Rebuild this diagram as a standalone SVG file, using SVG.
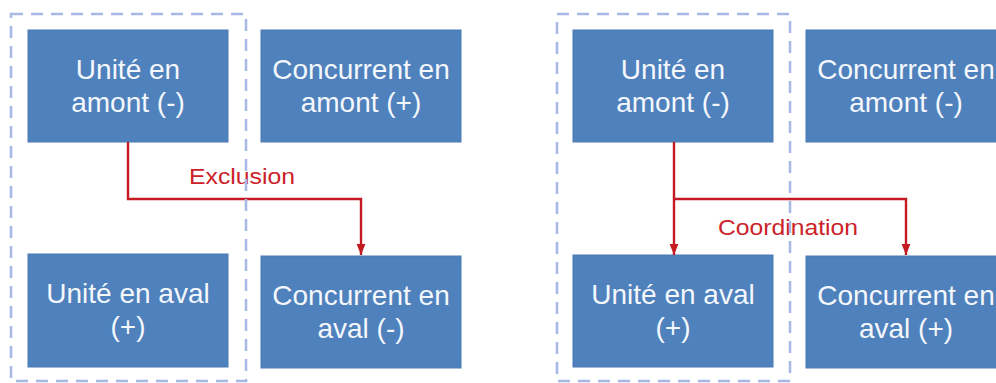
<svg xmlns="http://www.w3.org/2000/svg" width="996" height="383" viewBox="0 0 996 383">
<defs>
<style>
.box{fill:#4f81bd;stroke:#4a7ab3;stroke-width:1}
.t{font-family:"Liberation Sans",Arial,sans-serif;font-size:28px;fill:#f4f7fb;text-anchor:middle}
.lbl{font-family:"Liberation Sans",Arial,sans-serif;font-size:22px;fill:#cc2229;text-anchor:middle}
.con{fill:none;stroke:#c41a22;stroke-width:2.4}
.grp{fill:none;stroke:#a6b8e4;stroke-width:2.5;stroke-dasharray:12 8}
</style>
<marker id="ah" viewBox="0 0 10 10" refX="10" refY="5" markerWidth="11" markerHeight="11" markerUnits="userSpaceOnUse" orient="auto">
<path d="M0,1 L10,5 L0,9 Z" fill="#c41a22"/>
</marker>
</defs>
<rect width="996" height="383" fill="#ffffff"/>
<g id="n1"><rect class="box" x="28" y="30" width="200" height="112"/><text class="t" x="128" y="79">Unité en</text><text class="t" x="128" y="112">amont (-)</text></g>
<g id="n2"><rect class="box" x="261" y="30" width="200" height="112"/><text class="t" x="361" y="79">Concurrent en</text><text class="t" x="361" y="112">amont (+)</text></g>
<g id="n3"><rect class="box" x="28" y="254" width="200" height="113"/><text class="t" x="128" y="303">Unité en aval</text><text class="t" x="128" y="336">(+)</text></g>
<g id="n4"><rect class="box" x="261" y="256" width="200" height="112"/><text class="t" x="361" y="305">Concurrent en</text><text class="t" x="361" y="338">aval (-)</text></g>
<g id="n5"><rect class="box" x="573" y="30" width="200" height="112"/><text class="t" x="673" y="79">Unité en</text><text class="t" x="673" y="112">amont (-)</text></g>
<g id="n6"><rect class="box" x="806" y="30" width="200" height="112"/><text class="t" x="906" y="79">Concurrent en</text><text class="t" x="906" y="112">amont (-)</text></g>
<g id="n7"><rect class="box" x="573" y="255" width="200" height="112"/><text class="t" x="673" y="304">Unité en aval</text><text class="t" x="673" y="337">(+)</text></g>
<g id="n8"><rect class="box" x="806" y="256" width="200" height="112"/><text class="t" x="906" y="305">Concurrent en</text><text class="t" x="906" y="338">aval (+)</text></g>
<g id="connectors">
<path class="con" d="M128,142 V199 H361 V255" marker-end="url(#ah)"/>
<text class="lbl" x="242" y="184" textLength="106" lengthAdjust="spacingAndGlyphs">Exclusion</text>
<path class="con" d="M674,142 V255" marker-end="url(#ah)"/>
<path class="con" d="M674,199 H906 V255" marker-end="url(#ah)"/>
<text class="lbl" x="788" y="235" textLength="140" lengthAdjust="spacingAndGlyphs">Coordination</text>
</g>
<g id="groups">
<rect class="grp" x="11" y="14" width="235" height="367"/>
<rect class="grp" x="557" y="14" width="233" height="367"/>
</g>
</svg>
